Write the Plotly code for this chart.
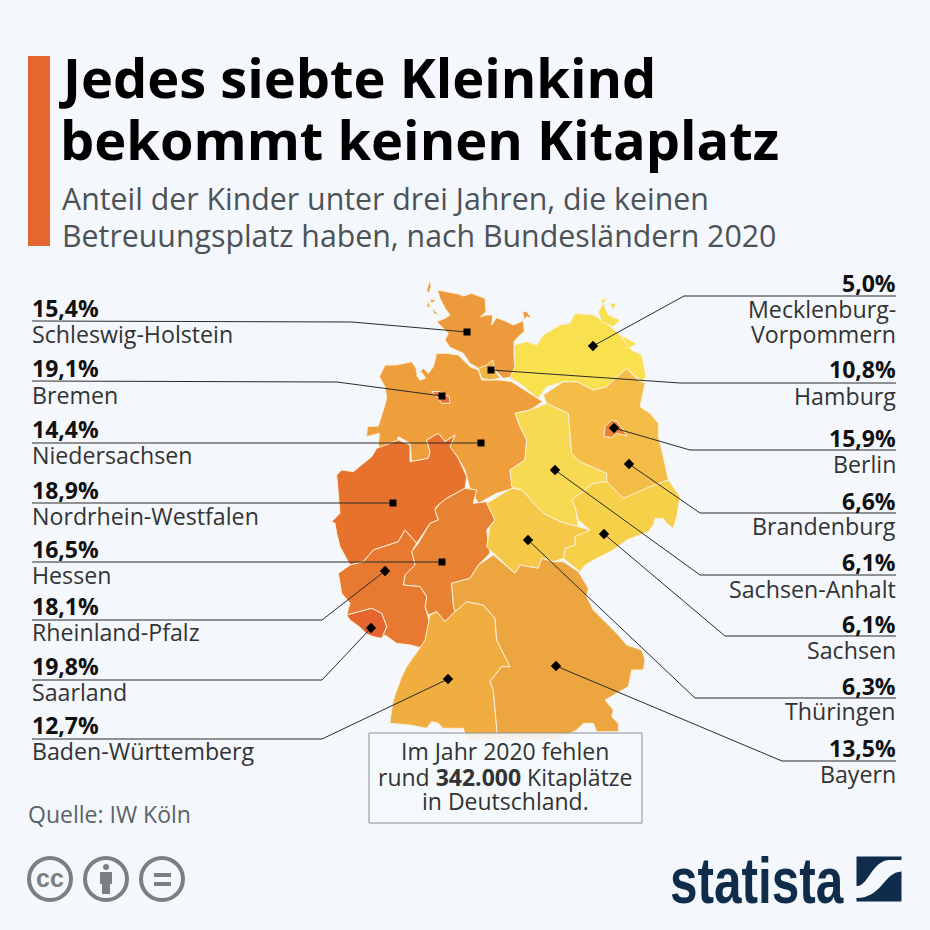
import plotly.graph_objects as go

FONT = "Open Sans"
BG = "#F4F8FC"

# Bundesland figures
states = ["Schleswig-Holstein", "Bremen", "Niedersachsen", "Nordrhein-Westfalen", "Hessen", "Rheinland-Pfalz",
          "Saarland", "Baden-Württemberg", "Mecklenburg-", "Hamburg", "Berlin", "Brandenburg",
          "Sachsen-Anhalt", "Sachsen", "Thüringen", "Bayern"]
values = ["15,4%", "19,1%", "14,4%", "18,9%", "16,5%", "18,1%", "19,8%", "12,7%",
          "5,0%", "10,8%", "15,9%", "6,6%", "6,1%", "6,1%", "6,3%", "13,5%"]
value_y = [308, 368, 429, 490, 549, 606, 666, 725, 283, 369, 438, 501, 562, 624, 686, 748]
name_y = [334, 395, 455, 516, 575, 632, 692, 751, 309, 396, 464, 526, 589, 650, 711, 774]

# outlines in zoomed map units (3 units per pixel, origin 330/270)
SH = [(322,60),(345,65),(385,72),(400,78),(425,70),(445,78),(465,85),(468,125),(452,140),(470,135),(488,135),(485,165),(500,143),(530,155),(550,165),(580,152),(583,185),(565,200),(552,215),(552,260),(555,290),(540,322),(520,325),(495,300),(445,295),(420,280),(400,250),(360,232),(345,210),(355,190),(320,155),(345,145),(360,135),(345,115),(330,85)]
SH_i1 = [(290,60),(300,30),(303,50),(295,72)]
SH_i2 = [(300,88),(318,90),(305,100)]
SH_i3 = [(295,95),(302,112),(290,110)]
SH_i4 = [(305,115),(330,137),(312,130)]
SH_i5 = [(578,125),(590,125),(605,145),(590,140),(583,150)]
HH = [(445,295),(470,285),(488,270),(495,300),(510,325),(480,330),(455,325)]
MV = [(553,225),(590,215),(620,225),(640,195),(690,165),(720,160),(735,130),(790,135),(830,160),(870,195),(905,240),(935,255),(948,320),(935,335),(890,295),(860,320),(830,350),(790,360),(740,335),(700,335),(650,350),(625,385),(600,365),(570,340),(540,325),(555,260)]
MV_i1 = [(805,125),(820,100),(835,135),(870,150),(850,170),(815,155)]
MV_i2 = [(812,90),(830,85),(820,102)]
MV_i3 = [(840,100),(858,100),(850,120)]
MV_i4 = [(875,195),(920,222),(895,235)]
NI = [(148,320),(160,295),(165,285),(200,285),(245,275),(258,295),(262,315),(280,295),(295,310),(310,290),(320,250),(350,250),(385,255),(420,290),(445,300),(455,330),(510,330),(545,335),(590,365),(638,395),(600,420),(555,430),(570,470),(590,510),(585,570),(540,600),(550,655),(500,670),(445,700),(420,655),(405,600),(385,565),(360,530),(375,495),(345,515),(325,490),(290,510),(300,545),(295,565),(245,575),(240,520),(205,500),(200,515),(145,535),(148,490),(110,500),(112,470),(145,468),(160,420),(170,385),(165,350)]
JADE = [(258,315),(275,305),(288,325),(270,332)]
NW = [(20,615),(35,600),(70,605),(105,575),(125,560),(140,535),(205,510),(240,525),(240,575),(295,565),(300,545),(290,510),(325,490),(345,515),(375,495),(360,530),(385,565),(410,620),(405,655),(350,685),(315,715),(330,700),(315,720),(325,750),(300,760),(260,820),(225,780),(205,815),(130,840),(100,875),(60,885),(45,855),(30,830),(20,790),(15,760),(5,755),(30,730)]
HE = [(405,655),(440,660),(430,700),(470,695),(495,750),(470,780),(480,850),(445,885),(420,925),(365,940),(370,1005),(375,1025),(345,1055),(320,1025),(295,1035),(285,1010),(290,980),(270,950),(220,945),(225,915),(255,885),(245,845),(265,820),(300,760),(325,750),(315,720),(330,700),(350,685)]
ST = [(555,430),(600,420),(650,400),(715,430),(725,550),(750,575),(830,610),(830,635),(790,640),(725,690),(735,710),(745,770),(690,755),(640,730),(575,660),(545,650),(540,600),(585,570),(590,510),(570,470)]
BB = [(640,375),(700,335),(740,335),(790,360),(830,350),(860,320),(890,295),(925,330),(945,340),(930,410),(960,430),(985,460),(985,500),(1000,560),(1015,630),(960,650),(880,685),(830,635),(830,610),(750,575),(725,550),(715,430),(650,400)]
BE = [(822,500),(825,470),(845,450),(860,455),(880,480),(890,498),(860,490),(845,502)]
SN = [(725,690),(790,640),(830,635),(880,685),(945,650),(1015,630),(1050,680),(1040,740),(1030,775),(1010,760),(1000,745),(975,745),(970,765),(955,785),(890,810),(870,825),(850,840),(800,865),(765,885),(750,905),(720,880),(700,865),(705,835),(735,825),(735,800),(780,780),(745,750),(735,710)]
TH = [(470,700),(545,655),(575,660),(640,730),(690,755),(745,770),(780,780),(735,800),(735,825),(705,835),(700,865),(670,875),(635,865),(625,895),(570,885),(555,910),(490,850),(470,830),(480,770),(495,750)]
BY = [(365,940),(420,925),(445,885),(490,855),(555,910),(570,885),(625,895),(635,865),(670,875),(700,875),(745,905),(765,940),(775,955),(770,980),(790,1020),(830,1060),(860,1090),(890,1125),(935,1140),(945,1170),(940,1200),(905,1200),(895,1250),(860,1270),(825,1290),(850,1320),(845,1340),(865,1360),(865,1385),(800,1385),(790,1360),(760,1360),(740,1380),(680,1410),(500,1410),(500,1375),(490,1260),(480,1235),(515,1190),(540,1190),(500,1110),(495,1045),(460,1005),(410,995),(375,1025),(370,1005)]
BW = [(300,1035),(320,1025),(345,1055),(375,1025),(410,995),(460,1005),(495,1045),(500,1110),(540,1190),(515,1190),(480,1235),(490,1260),(500,1375),(500,1410),(410,1410),(400,1375),(340,1375),(325,1360),(305,1355),(290,1375),(240,1365),(180,1360),(182,1340),(190,1290),(215,1220),(230,1190),(265,1140),(285,1110)]
RP = [(25,910),(60,885),(100,875),(130,840),(205,815),(225,780),(260,820),(245,845),(255,885),(225,915),(220,945),(270,950),(290,980),(285,1010),(300,1060),(280,1135),(240,1125),(200,1120),(165,1095),(155,1105),(170,1070),(155,1030),(125,1015),(50,1035),(60,1000),(35,970)]
SL = [(50,1035),(125,1015),(155,1030),(170,1070),(155,1105),(130,1100),(110,1092),(90,1072),(60,1050)]
HB = [(305,365),(330,365),(345,375),(358,380),(360,400),(335,400),(325,385),(310,372)]

regions = [
    ("Niedersachsen", "#EE9E3B", [NI]), ("Nordrhein-Westfalen", "#E7722E", [NW]), ("Hessen", "#E88233", [HE]),
    ("Rheinland-Pfalz", "#E77A30", [RP]), ("Saarland", "#E6652E", [SL]), ("Sachsen-Anhalt", "#F7DA52", [ST]),
    ("Sachsen", "#F7D04A", [SN]), ("Thüringen", "#F5C947", [TH]), ("Brandenburg", "#F3BD47", [BB]),
    ("Berlin", "#E88335", [BE]), ("Mecklenburg-Vorpommern", "#F9E04F", [MV, MV_i1, MV_i2, MV_i3, MV_i4]),
    ("Schleswig-Holstein", "#ED9A3C", [SH, SH_i1, SH_i2, SH_i3, SH_i4, SH_i5]), ("Hamburg", "#EFB544", [HH]),
    ("Bremen", "#E8703A", [HB]), ("Baden-Württemberg", "#F1AE40", [BW]), ("Bayern", "#EDA53F", [BY]),
]

# callout lines
leaders = [
    ([32,352,467],[321,322,332],"square"), ([32,337,442],[381,382,396],"square"), ([32,481],[443,443],"square"),
    ([32,393],[503,503],"square"), ([32,442],[562,562],"square"), ([32,322,385],[620,620,571],"diamond"),
    ([32,322,371],[680,680,628],"diamond"), ([32,322,448],[739,739,679],"diamond"),
    ([896,684,593],[296,296,346],"diamond"), ([896,680,491],[383,383,370],"square"), ([896,690,614],[450,450,428],"diamond"),
    ([896,700,629],[513,513,464],"diamond"), ([896,700,555],[575,575,470],"diamond"), ([896,725,604],[636,636,534],"diamond"),
    ([896,695,528],[698,698,540],"diamond"), ([896,782,556],[761,761,666],"diamond"),
]

fig = go.Figure()
for name, col, parts in regions:
    for p in parts:
        xs = [330 + a/3 for a, b in p] + [330 + p[0][0]/3]
        ys = [270 + b/3 for a, b in p] + [270 + p[0][1]/3]
        fig.add_trace(go.Scatter(x=xs, y=ys, mode="lines", fill="toself", fillcolor=col, name=name,
                                 line=dict(color="#FBEFD8", width=1), hoverinfo="skip", showlegend=False))
xs = [330 + a/3 for a, b in JADE] + [330 + JADE[0][0]/3]
ys = [270 + b/3 for a, b in JADE] + [270 + JADE[0][1]/3]
fig.add_trace(go.Scatter(x=xs, y=ys, mode="lines", fill="toself", fillcolor=BG, line=dict(color=BG, width=0), hoverinfo="skip", showlegend=False))

for lx, ly, sym in leaders:
    fig.add_trace(go.Scatter(x=lx, y=ly, mode="lines", line=dict(color="#2b2b2b", width=1), hoverinfo="skip", showlegend=False))
    fig.add_trace(go.Scatter(x=[lx[-1]], y=[ly[-1]], mode="markers", marker=dict(symbol=sym, size=8 if sym == "diamond" else 7, color="#000"), hoverinfo="skip", showlegend=False))

ann = []
def text(x, y, s, size, color="#222", anchor="left", font=FONT):
    ann.append(dict(x=x, y=y, xref="x", yref="y", text=s, showarrow=False, xanchor=anchor, yanchor="middle",
                    align=anchor, font=dict(family=font, size=size, color=color)))

text(56, 77, "<b>Jedes siebte Kleinkind</b>", 54.2, "#000")
text(58, 139, "<b>bekommt keinen Kitaplatz</b>", 54.2, "#000")
text(60, 198, "Anteil der Kinder unter drei Jahren, die keinen", 30.3, "#4C5257")
text(60, 235, "Betreuungsplatz haben, nach Bundesländern 2020", 30.3, "#4C5257")

for i, (st, v, vy, ny) in enumerate(zip(states, values, value_y, name_y)):
    side = "left" if i < 8 else "right"
    x = 30 if i < 8 else 898
    text(x, vy, f"<b>{v}</b>", 23, "#111", side)
    text(x, ny, st, 23.2, "#333", side)
text(898, 334, "Vorpommern", 23.2, "#333", "right")

text(505, 751, "Im Jahr 2020 fehlen", 23, "#333", "center")
text(505, 777, "rund <b>342.000</b> Kitaplätze", 23, "#333", "center")
text(505, 801, "in Deutschland.", 23, "#333", "center")
text(26, 814, "Quelle: IW Köln", 23, "#5B6267")
text(50, 878, "<b>cc</b>", 25, "#7A7F80", "center", "Liberation Sans")
text(668, 880, "<b>statista</b>", 49.5, "#0F2C4A", "left", "Liberation Sans")

shapes = [
    dict(type="rect", x0=28, x1=50, y0=56, y1=246, fillcolor="#E5672F", line_width=0, layer="below"),
    dict(type="rect", x0=369, x1=642, y0=733, y1=823, fillcolor="rgba(244,248,252,0.9)", line=dict(color="#8A8F93", width=1), layer="above"),
]
for cx in (50, 106, 162):
    shapes.append(dict(type="circle", x0=cx-21, x1=cx+21, y0=879-21, y1=879+21, line=dict(color="#7A7F80", width=4), fillcolor="rgba(0,0,0,0)"))
shapes += [
    dict(type="circle", x0=103, x1=109, y0=864, y1=870, fillcolor="#7A7F80", line_width=0),
    dict(type="path", path="M100 872 H112 V884 H110 V894 H102 V884 H100 Z", fillcolor="#7A7F80", line_width=0),
    dict(type="rect", x0=154, x1=171, y0=873, y1=877, fillcolor="#7A7F80", line_width=0),
    dict(type="rect", x0=154, x1=171, y0=882, y1=886, fillcolor="#7A7F80", line_width=0),
    dict(type="path", path="M856.5 856.5 H901.5 V860 H890 C872 860 868 887 856.5 886 Z", fillcolor="#0F2C4A", line_width=0),
    dict(type="path", path="M901.5 871.5 C884 872 882 898 856.5 898 V901.5 H901.5 Z", fillcolor="#0F2C4A", line_width=0),
]

fig.update_layout(
    width=930, height=930, margin=dict(l=0, r=0, t=0, b=0), paper_bgcolor=BG, plot_bgcolor=BG,
    xaxis=dict(range=[0, 930], visible=False, fixedrange=True),
    yaxis=dict(range=[930, 0], visible=False, fixedrange=True),
    annotations=ann, shapes=shapes, showlegend=False,
)
stretch = """
document.body.style.margin='0';
document.querySelectorAll('.annotation-text').forEach(function(t){
  if(t.textContent==='statista'){
    var b=t.getBBox(), cy=b.y+b.height/2, s=1.3;
    t.setAttribute('transform','translate(0 '+(cy*(1-s))+') scale(1 '+s+')');
  }
});
"""
fig.write_html("out.html", post_script=stretch, config=dict(displayModeBar=False))
